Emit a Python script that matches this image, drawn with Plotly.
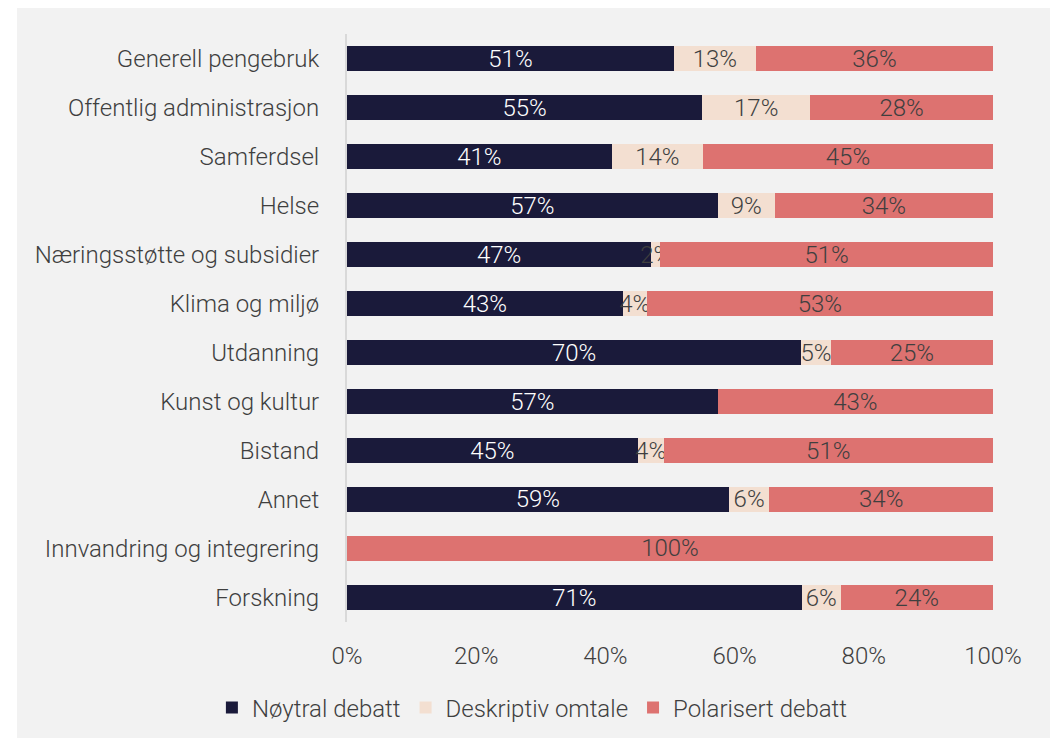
import plotly.graph_objects as go

NAVY = "#1a1a3a"
BEIGE = "#f3dfd1"
SALMON = "#dd7270"
TEXT_COLOR = "#3f3f3f"
PANEL_BG = "#f2f2f2"
AXIS_COLOR = "#d9d9d9"

categories = [
    "Generell pengebruk",
    "Offentlig administrasjon",
    "Samferdsel",
    "Helse",
    "Næringsstøtte og subsidier",
    "Klima og miljø",
    "Utdanning",
    "Kunst og kultur",
    "Bistand",
    "Annet",
    "Innvandring og integrering",
    "Forskning",
]
# shares (%)
noytral = [50.6, 55.0, 41.0, 57.4, 47.1, 42.7, 70.3, 57.4, 45.0, 59.1, 0.0, 70.4]
deskriptiv = [12.7, 16.7, 14.1, 8.8, 1.4, 3.7, 4.6, 0.0, 4.0, 6.3, 0.0, 6.0]
polarisert = [36.7, 28.3, 44.9, 33.8, 51.5, 53.6, 25.1, 42.6, 51.0, 34.6, 100.0, 23.6]
# labels as printed on the bars
noytral_lbl = ["51%", "55%", "41%", "57%", "47%", "43%", "70%", "57%", "45%", "59%", "", "71%"]
deskriptiv_lbl = ["13%", "17%", "14%", "9%", "2%", "4%", "5%", "", "4%", "6%", "", "6%"]
polarisert_lbl = ["36%", "28%", "45%", "34%", "51%", "53%", "25%", "43%", "51%", "34%", "100%", "24%"]

x_ticks = [0, 20, 40, 60, 80, 100]
x_tick_text = ["0%", "20%", "40%", "60%", "80%", "100%"]

series = [
    ("Nøytral debatt", noytral, noytral_lbl, NAVY, "white"),
    ("Deskriptiv omtale", deskriptiv, deskriptiv_lbl, BEIGE, TEXT_COLOR),
    ("Polarisert debatt", polarisert, polarisert_lbl, SALMON, TEXT_COLOR),
]

# the page body has an 8px margin, so the figure sits 8px in from the corner
W, H = 1050, 730
L, R, T, B = 339, 65, 26, 116
PW, PH = W - L - R, H - T - B

fig = go.Figure()
for name, values, labels, color, txt in series:
    fig.add_bar(
        name=name,
        y=categories,
        x=values,
        orientation="h",
        marker=dict(color=color, line=dict(width=0)),
        text=labels,
        textposition="inside",
        insidetextanchor="middle",
        textangle=0,
        constraintext="none",
        textfont=dict(color=txt, size=24, family="Roboto", weight=300),
        cliponaxis=False,
    )

# grey panel behind the chart, white strip on the left
fig.add_shape(
    type="rect", xref="paper", yref="paper", layer="below",
    x0=(9 - L) / PW, x1=(W - L) / PW,
    y0=-B / PH, y1=(H - B) / PH,
    fillcolor=PANEL_BG, line_width=0,
)

fig.update_layout(
    width=W,
    height=H,
    barmode="stack",
    bargap=0.49,
    paper_bgcolor="white",
    plot_bgcolor=PANEL_BG,
    margin=dict(l=L, r=R, t=T, b=B, autoexpand=False),
    font=dict(family="Roboto", size=24, color=TEXT_COLOR, weight=300),
    legend=dict(
        orientation="h",
        traceorder="normal",
        x=0.287,
        xanchor="center",
        y=-0.146,
        yanchor="middle",
        font=dict(size=24),
        itemwidth=30,
        bgcolor="rgba(0,0,0,0)",
    ),
)
fig.update_xaxes(
    range=[0, 100],
    tickvals=x_ticks,
    ticktext=x_tick_text,
    showgrid=False,
    zeroline=False,
    showline=False,
    ticklabelstandoff=17,
)
fig.update_yaxes(
    autorange="reversed",
    showgrid=False,
    zeroline=False,
    showline=True,
    linecolor=AXIS_COLOR,
    linewidth=2,
    ticklabelstandoff=21,
)

fig.write_html("out.html")
